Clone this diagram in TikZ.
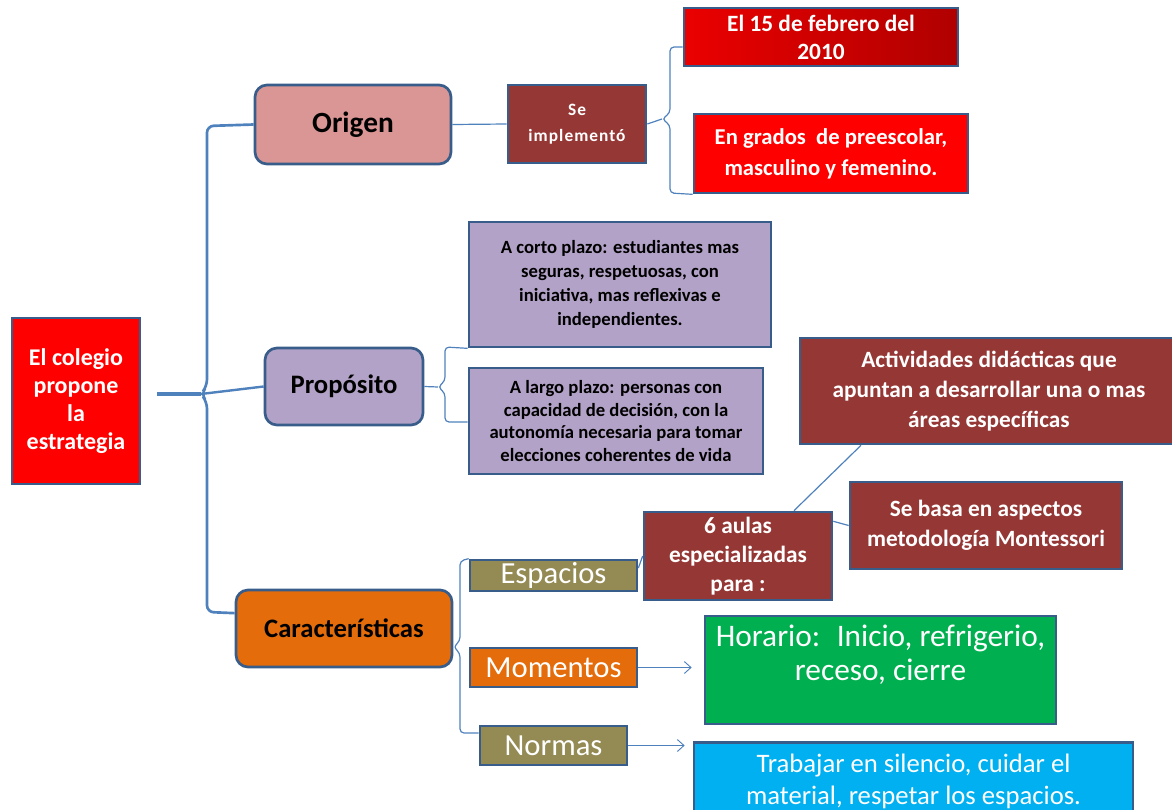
\documentclass[tikz,border=0pt]{standalone}
\usepackage{fontspec}
\setmainfont{Carlito}
\usetikzlibrary{arrows.meta}

\definecolor{borde}{HTML}{385D8A}
\definecolor{linea}{HTML}{4F81BD}
\definecolor{rosa}{HTML}{D99694}
\definecolor{lila}{HTML}{B3A2C7}
\definecolor{naranja}{HTML}{E46C0A}
\definecolor{vino}{HTML}{953735}
\definecolor{rojo}{HTML}{FF0000}
\definecolor{rojooscuro}{HTML}{B00000}
\definecolor{oliva}{HTML}{948A54}
\definecolor{verde}{HTML}{00B050}
\definecolor{celeste}{HTML}{00B0F0}

\begin{document}
\begin{tikzpicture}[x=0.75pt, y=-0.75pt,
    box/.style={draw=borde, line width=2pt, inner sep=0pt, align=center},
    tema/.style={box, rounded corners=9pt, font=\fontsize{20}{24}\selectfont\bfseries},
    idea/.style={box, text=white, font=\fontsize{17.5}{22.5}\selectfont\bfseries},
    meta/.style={box, fill=lila, font=\fontsize{14}{17.8}\selectfont\bfseries},
    rama/.style={box, text=white, font=\fontsize{23}{26}\selectfont},
    link/.style={draw=linea, line width=0.9pt},
    brace/.style={draw=linea, line width=2pt, rounded corners=5pt},
    arrow/.style={draw=linea, line width=0.7pt, -{Straight Barb[length=5pt,width=9pt]}}
]
\useasboundingbox (0,0) rectangle (1172,810);

% Raiz
\node[box, fill=rojo, text=white, minimum width=96pt, minimum height=124.5pt, font=\fontsize{18}{21}\selectfont\bfseries] (colegio) at (76,401) {El colegio\\propone\\la\\estrategia};

% Ramas principales
\node[tema, fill=rosa, minimum width=147pt, minimum height=59.25pt, font=\fontsize{22}{26}\selectfont\bfseries] (origen) at (353,124.5) {Origen};
\node[tema, fill=lila, minimum width=118.5pt, minimum height=57.75pt] (proposito) at (344,386.5) {Propósito};
\node[tema, fill=naranja, minimum width=162pt, minimum height=57.75pt] (caract) at (344,628.5) {Características};

% Origen
\node[idea, fill=vino, minimum width=103.5pt, minimum height=58.5pt, font=\fontsize{13}{19.5}\selectfont\bfseries\addfontfeature{LetterSpace=6}] (implemento) at (577,124) {Se\\implementó};
\node[idea, left color=rojo!92!black, right color=rojooscuro, minimum width=205.5pt, minimum height=43.5pt, font=\fontsize{17.5}{21}\selectfont\bfseries] (fecha) at (821,37) {El 15 de febrero del\\2010};
\node[idea, fill=rojo, minimum width=205.5pt, minimum height=59.25pt, font=\fontsize{17}{23}\selectfont\bfseries] (grados) at (831,153.5) {En grados~ de preescolar,\\masculino y femenino.};

% Proposito
\node[meta, minimum width=226.5pt, minimum height=93.75pt] (corto) at (620,284.5) {A corto plazo: estudiantes mas\\seguras, respetuosas, con\\iniciativa, mas reflexivas e\\independientes.};
\node[meta, minimum width=220.5pt, minimum height=79.5pt, font=\fontsize{14}{17}\selectfont\bfseries] (largo) at (616,421) {A largo plazo: personas con\\capacidad de decisión, con la\\autonomía necesaria para tomar\\elecciones coherentes de vida};

% Caracteristicas
\node[rama, fill=oliva, minimum width=125.25pt, minimum height=23.25pt] (espacios) at (553.5,575.5) {Espacios};
\node[rama, fill=naranja, minimum width=125.25pt, minimum height=29.25pt] (momentos) at (553.5,667.5) {Momentos};
\node[rama, fill=oliva, minimum width=110.25pt, minimum height=29.25pt] (normas) at (553.5,745.5) {Normas};

\node[idea, fill=vino, minimum width=141pt, minimum height=66pt, font=\fontsize{17.5}{21.75}\selectfont\bfseries] (aulas) at (738,556) {6 aulas\\especializadas\\para :};
\node[idea, fill=vino, minimum width=283.5pt, minimum height=79.5pt] (actividades) at (989,391) {Actividades didácticas que\\apuntan a desarrollar una o mas\\áreas específicas};
\node[idea, fill=vino, minimum width=204pt, minimum height=65.25pt] (montessori) at (986,525.5) {Se basa en aspectos\\metodología Montessori};
\node[rama, fill=verde, minimum width=263.25pt, minimum height=81pt, font=\fontsize{23.5}{25.5}\selectfont] (horario) at (880.5,670) {Horario:~ Inicio, refrigerio,\\receso, cierre\\\mbox{}};
\node[rama, fill=celeste, minimum width=329.25pt, minimum height=58.5pt, font=\fontsize{20}{23.5}\selectfont] (silencio) at (913.5,781.5) {Trabajar en silencio, cuidar el\\material, respetar los espacios.};

% Llaves
\coordinate (tallo) at (157,394);
\coordinate (pico) at (201,394);
\draw[brace] (origen.west) -- (207,126) -- (207,386) -- (pico) -- (207,402) -- (207,612) -- (caract.172);
\draw[brace, line width=2.4pt] (tallo) -- (pico);
\draw[link, line width=1.8pt] (pico) -- (proposito.west);

\draw[link] (origen.east) -- (implemento.west);
\coordinate (spico) at (662,119);
\draw[link] (implemento.east) -- (spico);
\draw[link, rounded corners=3pt] (fecha.west |- 0,47) -- (670,47) -- (670,113) -- (spico) -- (670,125) -- (670,193) -- (grados.south west);

\coordinate (ppico) at (438,387);
\draw[link] (proposito.east) -- (ppico);
\draw[link, rounded corners=3pt] (corto.south west) -- (445,347) -- (445,381) -- (ppico) -- (445,393) -- (445,422) -- (largo.west |- 0,422);

\coordinate (cpico) at (caract.east |- 0,647);
\draw[link, rounded corners=3pt] (espacios.north west) -- (460,561) -- (460,641) -- (cpico) -- (460,653) -- (460,733) -- (normas.west |- 0,733);

% Conexiones
\draw[link] (espacios.5) -- (aulas.west);
\draw[link] (aulas.39) -- (actividades.203);
\draw[link] (aulas.20) -- (montessori.west);
\draw[arrow, shorten >=9pt] (momentos.east) -- (horario.west |- momentos.east);
\draw[arrow, shorten >=6pt] (normas.east) -- (silencio.west |- normas.east);

\end{tikzpicture}
\end{document}
